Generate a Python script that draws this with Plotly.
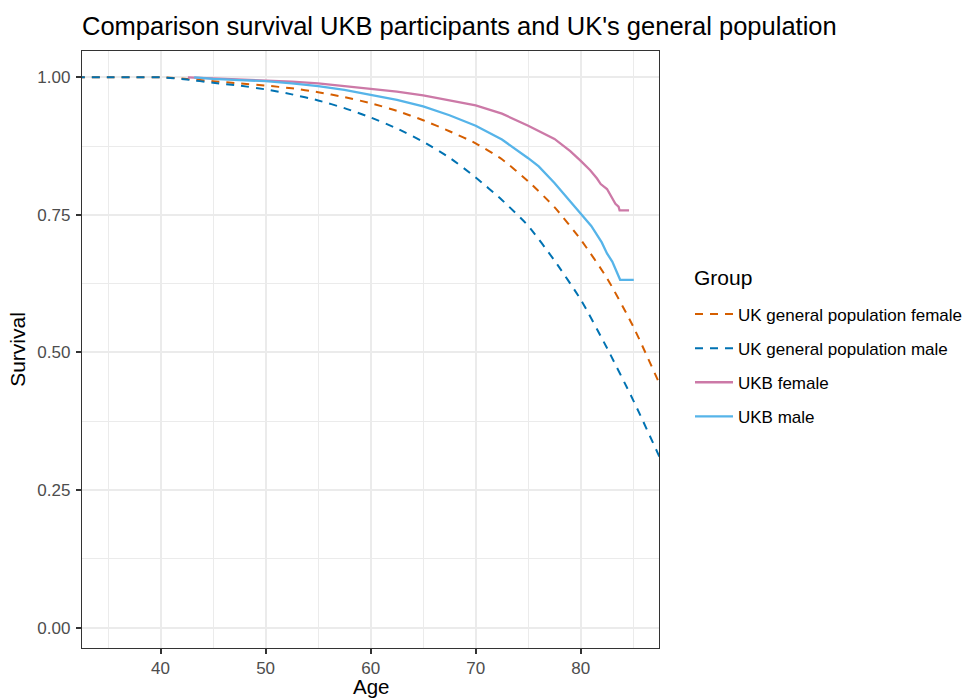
import plotly.graph_objects as go

# ---------------- data ----------------
pop_age = [32, 35, 37.5, 40, 42.5, 45, 47.5, 50, 52.5, 55, 57.5, 60, 62.5, 65,
           67.5, 70, 72.5, 75, 77.5, 80, 82.5, 85, 87.5]
pop_female = [1.0, 1.0, 1.0, 1.0, 0.997, 0.993, 0.989, 0.985, 0.980, 0.973, 0.964,
              0.953, 0.939, 0.922, 0.902, 0.880, 0.851, 0.811, 0.764, 0.705, 0.635,
              0.547, 0.443]
pop_male = [1.0, 1.0, 1.0, 1.0, 0.996, 0.990, 0.985, 0.978, 0.969, 0.958, 0.944,
            0.927, 0.907, 0.883, 0.854, 0.818, 0.777, 0.730, 0.667, 0.596, 0.508,
            0.413, 0.310]

ukb_female_age = [42.6, 45, 47.5, 50, 52.5, 55, 57.5, 60, 62.5, 65, 67.5, 70, 72.5,
                  75, 77.5, 79, 80, 80.9, 81.55, 81.9, 82.5, 82.8, 83.3, 83.6, 83.7, 84.6]
ukb_female = [1.0, 0.998, 0.997, 0.995, 0.992, 0.989, 0.984, 0.979, 0.974, 0.967,
              0.958, 0.949, 0.934, 0.912, 0.888, 0.866, 0.848, 0.831, 0.816, 0.806,
              0.797, 0.786, 0.770, 0.765, 0.758, 0.758]

ukb_male_age = [43.2, 45, 47.5, 50, 52.5, 55, 57.5, 60, 62.5, 65, 67.5, 70, 72.5, 75,
                76, 77.5, 79, 80, 81, 82, 82.5, 83, 83.3, 83.6, 83.75, 85.05]
ukb_male = [1.0, 0.997, 0.995, 0.993, 0.989, 0.984, 0.977, 0.968, 0.959, 0.947,
            0.931, 0.912, 0.887, 0.853, 0.838, 0.808, 0.775, 0.753, 0.730, 0.700,
            0.680, 0.665, 0.652, 0.640, 0.632, 0.632]

x_tick_vals = [40, 50, 60, 70, 80]
x_minor_vals = [35, 45, 55, 65, 75, 85]
y_tick_vals = [0.0, 0.25, 0.5, 0.75, 1.0]
y_tick_text = ["0.00", "0.25", "0.50", "0.75", "1.00"]
y_minor_vals = [0.125, 0.375, 0.625, 0.875]

# ---------------- figure ----------------
FONT = "Liberation Sans, Arial, Helvetica, sans-serif"
DASH = "8px,7px"
W, H = 970, 699
ML, MR, MT, MB = 82, 311, 51, 51
PW, PH = W - ML - MR, H - MT - MB

fig = go.Figure()
fig.add_trace(go.Scatter(x=pop_age, y=pop_female, mode="lines",
                         name="UK general population female", legendgroup="g1",
                         line=dict(color="#D55E00", width=2, dash=DASH,
                                   shape="spline", smoothing=0.6)))
fig.add_trace(go.Scatter(x=pop_age, y=pop_male, mode="lines",
                         name="UK general population male", legendgroup="g2",
                         line=dict(color="#0072B2", width=2, dash=DASH,
                                   shape="spline", smoothing=0.6)))
fig.add_trace(go.Scatter(x=ukb_female_age, y=ukb_female, mode="lines",
                         name="UKB female", legendgroup="g3",
                         line=dict(color="#CC79A7", width=2.3)))
fig.add_trace(go.Scatter(x=ukb_male_age, y=ukb_male, mode="lines",
                         name="UKB male", legendgroup="g4",
                         line=dict(color="#56B4E9", width=2.3)))

axis_common = dict(
    showgrid=True, gridcolor="#EBEBEB", gridwidth=2,
    zeroline=False, showline=True, mirror=True, linecolor="#333333", linewidth=1.3,
    ticks="outside", ticklen=5, tickwidth=2, tickcolor="#333333",
    tickfont=dict(family=FONT, size=17, color="#4D4D4D"),
    automargin=False,
)

fig.update_layout(
    width=W, height=H,
    margin=dict(l=ML, r=MR, t=MT, b=MB, autoexpand=False),
    paper_bgcolor="white", plot_bgcolor="white",
    font=dict(family=FONT, color="black"),
    title=dict(text="Comparison survival UKB participants and UK's general population",
               font=dict(family=FONT, size=25.5, color="black"),
               xref="container", yref="container", x=82 / W, xanchor="left",
               y=1 - 26 / H, yanchor="middle"),
    xaxis=dict(range=[32.52, 87.45], tickvals=x_tick_vals, ticklabelstandoff=-1,
               minor=dict(tickvals=x_minor_vals, showgrid=True, gridcolor="#EBEBEB",
                          gridwidth=1.2, ticks=""),
               **axis_common),
    yaxis=dict(range=[-0.0371, 1.0478], tickvals=y_tick_vals, ticktext=y_tick_text,
               ticklabelstandoff=2,
               minor=dict(tickvals=y_minor_vals, showgrid=True, gridcolor="#EBEBEB",
                          gridwidth=1.2, ticks=""),
               title=dict(text="Survival", font=dict(family=FONT, size=21, color="black"),
                          standoff=6),
               **axis_common),
    legend=dict(font=dict(family=FONT, size=17, color="black"),
                x=(690 - ML) / PW, xanchor="left",
                y=(H - MB - 296.5) / PH, yanchor="top",
                tracegroupgap=9, itemwidth=38, bgcolor="rgba(0,0,0,0)"),
    annotations=[
        dict(text="Group", xref="paper", yref="paper",
             x=(692 - ML) / PW, xanchor="left",
             y=(H - MB - 277) / PH, yanchor="middle",
             showarrow=False, font=dict(family=FONT, size=21, color="black")),
        dict(text="Age", xref="paper", yref="paper",
             x=0.5, xanchor="center",
             y=(H - MB - 686) / PH, yanchor="middle",
             showarrow=False, font=dict(family=FONT, size=20.5, color="black")),
    ],
    showlegend=True,
)

fig.write_html("out.html", config={"displayModeBar": False},
               post_script="document.body.style.margin='0';")
